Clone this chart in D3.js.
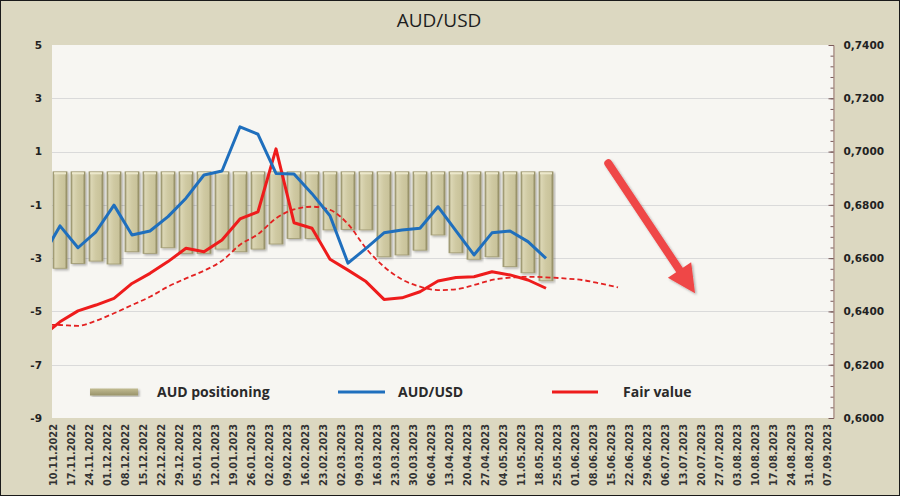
<!DOCTYPE html>
<html>
<head>
<meta charset="utf-8">
<script src="https://cdn.jsdelivr.net/npm/d3@7"></script>
<style>
  body { margin: 0; background: #fff; }
  svg { display: block; }
</style>
</head>
<body>
<div id="chart"></div>
<script>
// weekly report dates shown on the axis
const dates = [
  "10.11.2022", "17.11.2022", "24.11.2022", "01.12.2022", "08.12.2022", "15.12.2022",
  "22.12.2022", "29.12.2022", "05.01.2023", "12.01.2023", "19.01.2023", "26.01.2023",
  "02.02.2023", "09.02.2023", "16.02.2023", "23.02.2023", "02.03.2023", "09.03.2023",
  "16.03.2023", "23.03.2023", "30.03.2023", "06.04.2023", "13.04.2023", "20.04.2023",
  "27.04.2023", "04.05.2023", "11.05.2023", "18.05.2023", "25.05.2023", "01.06.2023",
  "08.06.2023", "15.06.2023", "22.06.2023", "29.06.2023", "06.07.2023", "13.07.2023",
  "20.07.2023", "27.07.2023", "03.08.2023", "10.08.2023", "17.08.2023", "24.08.2023",
  "31.08.2023", "07.09.2023"
];
// the lines start one week before the first label (clipped by the plot)
const priorWeek = "03.11.2022";

// AUD positioning (left axis), from 10.11.2022
const positioning = [
  -3.38, -3.20, -3.11, -3.22, -2.76, -2.82, -2.61, -2.82, -2.82, -2.66,
  -2.76, -2.66, -2.47, -2.26, -2.26, -1.94, -1.92, -1.94, -2.95, -2.88,
  -2.70, -2.13, -2.80, -3.04, -2.95, -3.32, -3.55, -3.85
];
const barBase = 0.24;

// right axis series, from priorWeek
const audusd = [
  0.6603, 0.6721, 0.6639, 0.6699, 0.6799, 0.6687, 0.6702, 0.6756, 0.6825, 0.6912,
  0.6927, 0.7093, 0.7065, 0.6918, 0.6916, 0.6842, 0.6759, 0.6581, 0.6637, 0.6695,
  0.6706, 0.6712, 0.6793, 0.6702, 0.6612, 0.6695, 0.6702, 0.6662, 0.6599
];
const fairValue = [
  0.6306, 0.6361, 0.6402, 0.6424, 0.6449, 0.6505, 0.6543, 0.6587, 0.6637, 0.6624,
  0.6668, 0.6747, 0.6774, 0.7010, 0.6733, 0.6712, 0.6596, 0.6555, 0.6512, 0.6445,
  0.6451, 0.6474, 0.6514, 0.6527, 0.6530, 0.6549, 0.6537, 0.6518, 0.6487
];
const fairTrend = [
  0.6350, 0.6349, 0.6346, 0.6365, 0.6393, 0.6424, 0.6455, 0.6493, 0.6524, 0.6553,
  0.6590, 0.6650, 0.6690, 0.6749, 0.6783, 0.6793, 0.6781, 0.6728, 0.6637, 0.6568,
  0.6520, 0.6493, 0.6480, 0.6483, 0.6499, 0.6518, 0.6527, 0.6530, 0.6528, 0.6524,
  0.6518, 0.6505, 0.6490
];

const leftTicks = [5, 3, 1, -1, -3, -5, -7, -9];
const rightTicks = [0.74, 0.72, 0.70, 0.68, 0.66, 0.64, 0.62, 0.60];

// arrow annotation, in week index / right axis units
const arrow = {fromWeek: 30.46, fromValue: 0.6956, toWeek: 35.28, toValue: 0.6468};

const width = 900;
const height = 496;
const margin = {top: 45, right: 67, bottom: 78, left: 52};
const step = 18;

const svg = d3.select("#chart")
  .append("svg")
  .attr("width", width)
  .attr("height", height);

const defs = svg.append("defs");

const barGrad = defs.append("linearGradient")
  .attr("id", "barGrad")
  .attr("x1", "0%").attr("x2", "100%")
  .attr("y1", "0%").attr("y2", "0%");
barGrad.append("stop").attr("offset", "0%").attr("stop-color", "#938d65");
barGrad.append("stop").attr("offset", "15%").attr("stop-color", "#dbd6b4");
barGrad.append("stop").attr("offset", "50%").attr("stop-color", "#cfc9a2");
barGrad.append("stop").attr("offset", "83%").attr("stop-color", "#c9c39b");
barGrad.append("stop").attr("offset", "100%").attr("stop-color", "#88825a");

const swatchGrad = defs.append("linearGradient")
  .attr("id", "swatchGrad")
  .attr("x1", "0%").attr("x2", "0%")
  .attr("y1", "0%").attr("y2", "100%");
swatchGrad.append("stop").attr("offset", "0%").attr("stop-color", "#c2bc92");
swatchGrad.append("stop").attr("offset", "100%").attr("stop-color", "#99936a");

const shadow = defs.append("filter").attr("id", "shadow")
  .attr("x", "-20%").attr("y", "-20%").attr("width", "140%").attr("height", "140%");
shadow.append("feDropShadow")
  .attr("dx", 1.5).attr("dy", 1.5).attr("stdDeviation", 1.2)
  .attr("flood-color", "#000").attr("flood-opacity", 0.3);

defs.append("clipPath").attr("id", "plotClip")
  .append("rect")
  .attr("x", margin.left).attr("y", margin.top)
  .attr("width", width - margin.left - margin.right)
  .attr("height", height - margin.top - margin.bottom);

// background + frame
svg.append("rect")
  .attr("x", 0.5).attr("y", 0.5)
  .attr("width", width - 1).attr("height", height - 1)
  .attr("fill", "#dcd8c1")
  .attr("stroke", "#1a1a1a");

svg.append("rect")
  .attr("x", margin.left).attr("y", margin.top)
  .attr("width", width - margin.left - margin.right)
  .attr("height", height - margin.top - margin.bottom)
  .attr("fill", "#f7f6f2");

const weeks = [priorWeek].concat(dates);

const x = d3.scaleBand()
  .domain(weeks)
  .range([margin.left - 1 - step, margin.left - 1 + dates.length * step])
  .paddingInner(0.22)
  .paddingOuter(0.11);

const xc = d => x(d) + x.bandwidth() / 2;
const xAt = i => xc(dates[0]) + i * step;

const yL = d3.scaleLinear()
  .domain([-9, 5])
  .range([height - margin.bottom, margin.top]);

const yR = d3.scaleLinear()
  .domain([0.60, 0.74])
  .range([height - margin.bottom, margin.top]);

// gridlines
svg.append("g")
  .selectAll("line")
  .data(leftTicks.filter(t => t > -9 && t < 5))
  .join("line")
  .attr("x1", margin.left)
  .attr("x2", width - margin.right)
  .attr("y1", d => Math.round(yL(d)) + 0.5)
  .attr("y2", d => Math.round(yL(d)) + 0.5)
  .attr("stroke", "#dadada")
  .attr("stroke-width", 1);

// left axis labels
const leftAxis = svg.append("g")
  .attr("transform", `translate(${margin.left},0)`)
  .call(d3.axisLeft(yL).tickValues(leftTicks).tickSize(0).tickPadding(10)
    .tickFormat(d => String(d)));
leftAxis.select(".domain").remove();
leftAxis.selectAll("text")
  .attr("font-family", "DejaVu Sans, Verdana, sans-serif")
  .attr("font-weight", "bold")
  .attr("font-size", "10.5px")
  .attr("fill", "#222");

// right axis
const fmt = d3.format(".4f");
const rightMinor = svg.append("g")
  .attr("transform", `translate(${width - margin.right + 0.5},0)`)
  .call(d3.axisRight(yR).tickValues(d3.range(0, 36).map(i => 0.60 + i * 0.004)).tickSize(-3).tickFormat(""));
rightMinor.selectAll("line").attr("stroke", "#7a5a5a");
rightMinor.select(".domain").attr("stroke", "#9a7878");

const rightAxis = svg.append("g")
  .attr("transform", `translate(${width - margin.right + 0.5},0)`)
  .call(d3.axisRight(yR).tickValues(rightTicks).tickSizeInner(-5).tickSizeOuter(0).tickPadding(10)
    .tickFormat(d => fmt(d).replace(".", ",")));
rightAxis.select(".domain").remove();
rightAxis.selectAll("line").attr("stroke", "#7a5a5a");
rightAxis.selectAll("text")
  .attr("font-family", "DejaVu Sans, Verdana, sans-serif")
  .attr("font-weight", "bold")
  .attr("font-size", "10.5px")
  .attr("fill", "#222");

// x axis labels (rotated)
const xAxis = svg.append("g")
  .attr("transform", `translate(0,${height - margin.bottom})`)
  .call(d3.axisBottom(x).tickValues(dates).tickSize(0));
xAxis.select(".domain").remove();
xAxis.selectAll("text")
  .attr("transform", "rotate(-90)")
  .attr("text-anchor", "end")
  .attr("x", -6)
  .attr("y", -6)
  .attr("dy", "0.35em")
  .attr("font-family", "DejaVu Sans, Verdana, sans-serif")
  .attr("font-weight", "bold")
  .attr("font-size", "9.8px")
  .attr("fill", "#333");

// positioning bars
svg.append("g")
  .selectAll("rect")
  .data(positioning)
  .join("rect")
  .attr("x", (d, i) => x(dates[i]))
  .attr("y", yL(barBase))
  .attr("width", x.bandwidth())
  .attr("height", d => yL(d) - yL(barBase))
  .attr("fill", "url(#barGrad)")
  .attr("stroke", "#9f9970")
  .attr("stroke-width", 0.8)
  .attr("filter", "url(#shadow)");

// bar top highlight
svg.append("g")
  .selectAll("rect")
  .data(positioning)
  .join("rect")
  .attr("x", (d, i) => x(dates[i]) + 1)
  .attr("y", yL(barBase) + 0.5)
  .attr("width", x.bandwidth() - 2)
  .attr("height", 2)
  .attr("fill", "#ece8cc");

const lines = svg.append("g").attr("clip-path", "url(#plotClip)");

const lineGen = d3.line()
  .x((d, i) => xc(weeks[i]))
  .y(d => yR(d));

lines.append("path")
  .datum(fairTrend)
  .attr("d", lineGen.curve(d3.curveMonotoneX))
  .attr("fill", "none")
  .attr("stroke", "#e32222")
  .attr("stroke-width", 1.8)
  .attr("stroke-dasharray", "5,3");

lines.append("path")
  .datum(fairValue)
  .attr("d", lineGen.curve(d3.curveLinear))
  .attr("fill", "none")
  .attr("stroke", "#ee1c1c")
  .attr("stroke-width", 3)
  .attr("stroke-linejoin", "round");

lines.append("path")
  .datum(audusd)
  .attr("d", lineGen.curve(d3.curveLinear))
  .attr("fill", "none")
  .attr("stroke", "#1f6fbd")
  .attr("stroke-width", 3)
  .attr("stroke-linejoin", "round");

// arrow annotation
const ax0 = xAt(arrow.fromWeek), ay0 = yR(arrow.fromValue);
const ax1 = xAt(arrow.toWeek), ay1 = yR(arrow.toValue);
const len = Math.hypot(ax1 - ax0, ay1 - ay0);
const ux = (ax1 - ax0) / len, uy = (ay1 - ay0) / len;
const headLen = 28, headHalf = 14;
const bx = ax1 - ux * headLen, by = ay1 - uy * headLen;
const arrowG = svg.append("g").attr("filter", "url(#shadow)");
arrowG.append("line")
  .attr("x1", ax0).attr("y1", ay0)
  .attr("x2", bx + ux * 4).attr("y2", by + uy * 4)
  .attr("stroke", "#ef4646")
  .attr("stroke-width", 8)
  .attr("stroke-linecap", "round");
arrowG.append("path")
  .attr("d", `M${ax1},${ay1} L${bx - uy * headHalf},${by + ux * headHalf} L${bx + uy * headHalf},${by - ux * headHalf} Z`)
  .attr("fill", "#ef4646");

// legend
const legend = svg.append("g")
  .attr("font-family", "Open Sans, sans-serif")
  .attr("font-weight", "bold")
  .attr("font-size", "14px")
  .attr("fill", "#2a2a2a");

legend.append("rect")
  .attr("x", 90).attr("y", 388.5)
  .attr("width", 48).attr("height", 7)
  .attr("fill", "url(#swatchGrad)")
  .attr("filter", "url(#shadow)");
legend.append("text").attr("x", 157).attr("y", 392).attr("dy", "0.35em").text("AUD positioning");

legend.append("line")
  .attr("x1", 338).attr("x2", 385).attr("y1", 392).attr("y2", 392)
  .attr("stroke", "#1f6fbd").attr("stroke-width", 3);
legend.append("text").attr("x", 398).attr("y", 392).attr("dy", "0.35em").text("AUD/USD");

legend.append("line")
  .attr("x1", 552).attr("x2", 598).attr("y1", 392).attr("y2", 392)
  .attr("stroke", "#ee1c1c").attr("stroke-width", 3);
legend.append("text").attr("x", 623).attr("y", 392).attr("dy", "0.35em").text("Fair value");

// title
svg.append("text")
  .attr("x", 439)
  .attr("y", 27)
  .attr("text-anchor", "middle")
  .attr("font-family", "Open Sans, sans-serif")
  .attr("font-size", "19px")
  .attr("fill", "#1e1e1e")
  .text("AUD/USD");
</script>
</body>
</html>
